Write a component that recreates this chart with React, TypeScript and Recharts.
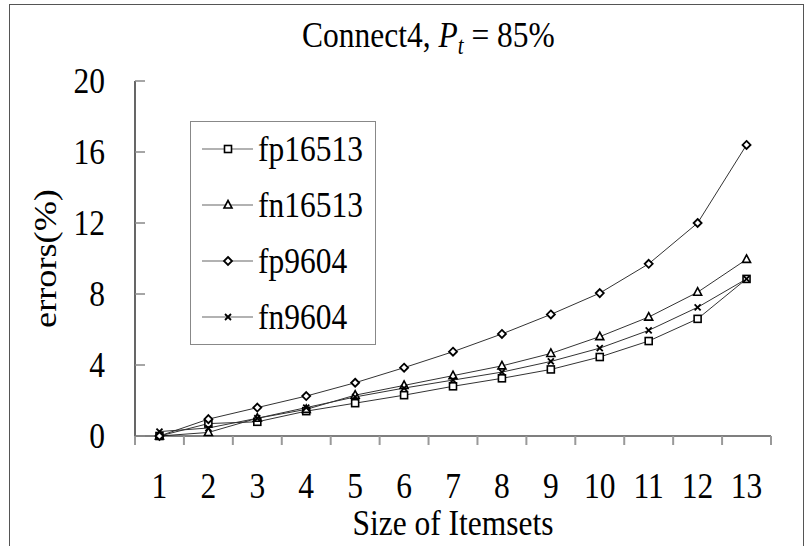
import { LineChart, Line, XAxis, YAxis, Legend } from "recharts"

// itemset sizes on the x axis
const sizes = [1, 2, 3, 4, 5, 6, 7, 8, 9, 10, 11, 12, 13]

// error rates (%) per itemset size
const fp16513 = [0, 0.7, 0.8, 1.4, 1.85, 2.3, 2.8, 3.25, 3.75, 4.45, 5.35, 6.6, 8.85]
const fn16513 = [0, 0.2, 1.0, 1.5, 2.3, 2.85, 3.4, 3.95, 4.65, 5.6, 6.7, 8.1, 9.95]
const fp9604 = [0, 0.95, 1.6, 2.25, 3.0, 3.85, 4.75, 5.75, 6.85, 8.05, 9.7, 12.0, 16.4]
const fn9604 = [0.25, 0.45, 1.0, 1.6, 2.2, 2.7, 3.15, 3.6, 4.2, 4.95, 5.95, 7.25, 8.85]

const yTicks = [0, 4, 8, 12, 16, 20]

// label ticks at each size, plus tick marks on the category boundaries
const xTicks = [0.5, ...sizes.flatMap((s) => [s, s + 0.5])]

type Shape = "square" | "triangle" | "diamond" | "cross"

const series: { key: string; shape: Shape }[] = [
  { key: "fp16513", shape: "square" },
  { key: "fn16513", shape: "triangle" },
  { key: "fp9604", shape: "diamond" },
  { key: "fn9604", shape: "cross" },
]

const data = sizes.map((size, i) => ({
  size,
  fp16513: fp16513[i],
  fn16513: fn16513[i],
  fp9604: fp9604[i],
  fn9604: fn9604[i],
}))

const FONT = "Liberation Serif, Tinos, DejaVu Serif, serif"
const FONT_SIZE = 31.5
const STRETCH = 1.15

function Marker({ cx, cy, shape }: { cx: number; cy: number; shape: Shape }) {
  if (cx == null || cy == null) return null
  switch (shape) {
    case "square":
      return <rect x={cx - 3.5} y={cy - 3.5} width={7} height={7} fill="#fff" stroke="#000" strokeWidth={1.6} />
    case "triangle":
      return (
        <polygon
          points={`${cx},${cy - 4.5} ${cx + 4},${cy + 3} ${cx - 4},${cy + 3}`}
          fill="#fff"
          stroke="#000"
          strokeWidth={1.6}
        />
      )
    case "diamond":
      return (
        <polygon
          points={`${cx},${cy - 4} ${cx + 4},${cy} ${cx},${cy + 4} ${cx - 4},${cy}`}
          fill="#fff"
          stroke="#000"
          strokeWidth={1.8}
        />
      )
    default:
      return (
        <g stroke="#000" strokeWidth={1.8}>
          <line x1={cx - 3} y1={cy - 3} x2={cx + 3} y2={cy + 3} />
          <line x1={cx - 3} y1={cy + 3} x2={cx + 3} y2={cy - 3} />
        </g>
      )
  }
}

function XTick({ x, y, payload }: any) {
  const v = payload.value
  if (Number.isInteger(v)) {
    return (
      <text
        transform={`translate(${x},${y + 62}) scale(1,${STRETCH})`}
        textAnchor="middle"
        fontFamily={FONT}
        fontSize={FONT_SIZE}
        fill="#000"
      >
        {v}
      </text>
    )
  }
  return <line x1={x} y1={y} x2={x} y2={y + 9} stroke="#999" strokeWidth={2} />
}

function YTick({ x, y, payload }: any) {
  return (
    <g>
      <line x1={x} y1={y} x2={x + 10} y2={y} stroke="#888" strokeWidth={1.5} />
      <text
        transform={`translate(${x - 30},${y + 12}) scale(1,${STRETCH})`}
        textAnchor="end"
        fontFamily={FONT}
        fontSize={FONT_SIZE}
        fill="#000"
      >
        {payload.value}
      </text>
    </g>
  )
}

function LegendBox() {
  return (
    <div
      style={{
        width: 184,
        height: 222,
        border: "1.5px solid #888",
        background: "#fff",
      }}
    >
      <svg width={184} height={222}>
        {series.map((s, i) => {
          const cy = 27 + i * 56
          return (
            <g key={s.key}>
              <line x1={11} y1={cy} x2={62} y2={cy} stroke="#999" strokeWidth={1.5} />
              <Marker cx={37} cy={cy} shape={s.shape} />
              <text
                transform={`translate(67,${cy + 12}) scale(1,${STRETCH})`}
                fontFamily={FONT}
                fontSize={FONT_SIZE}
                fill="#000"
              >
                {s.key}
              </text>
            </g>
          )
        })}
      </svg>
    </div>
  )
}

export default function App() {
  return (
    <div style={{ position: "absolute", left: 0, top: 0, width: 807, height: 546, overflow: "hidden", background: "#fff" }}>
      <div
        style={{
          position: "absolute",
          left: 9,
          top: 4,
          width: 793,
          height: 600,
          borderLeft: "1.5px solid #555",
          borderTop: "1.5px solid #555",
          borderRight: "1.5px solid #555",
        }}
      />
      {/* chart title */}
      <svg width={807} height={70} style={{ position: "absolute", left: 0, top: 0 }}>
        <text
          transform={`translate(302,47) scale(1,${STRETCH})`}
          fontFamily={FONT}
          fontSize={FONT_SIZE}
          fill="#000"
        >
          Connect4,{" "}
          <tspan fontStyle="italic">P</tspan>
          <tspan fontStyle="italic" fontSize={21} dy={6}>
            t
          </tspan>
          <tspan dy={-6}> = 85%</tspan>
        </text>
      </svg>
      <LineChart width={807} height={546} data={data} margin={{ top: 81, right: 36, bottom: 0, left: 0 }}>
        <XAxis
          dataKey="size"
          type="number"
          domain={[0.5, 13.5]}
          ticks={xTicks}
          interval={0}
          tickLine={false}
          tickSize={0}
          tickMargin={0}
          axisLine={{ stroke: "#000", strokeWidth: 1.2 }}
          height={110}
          tick={XTick}
          label={{
            content: ({ viewBox }: any) => (
              <text
                transform={`translate(${viewBox.x + viewBox.width / 2},${viewBox.y + 99}) scale(1,${STRETCH})`}
                textAnchor="middle"
                fontFamily={FONT}
                fontSize={FONT_SIZE}
                fill="#000"
              >
                Size of Itemsets
              </text>
            ),
          }}
        />
        <XAxis
          xAxisId="frame"
          dataKey="size"
          type="number"
          orientation="top"
          domain={[0.5, 13.5]}
          height={0}
          tick={false}
          tickLine={false}
          axisLine={{ stroke: "#999", strokeWidth: 2 }}
        />
        <YAxis
          type="number"
          domain={[0, 20]}
          ticks={yTicks}
          interval={0}
          width={135}
          tickLine={false}
          tickSize={0}
          tickMargin={0}
          axisLine={{ stroke: "#000", strokeWidth: 1.2 }}
          tick={YTick}
          label={{
            content: ({ viewBox }: any) => (
              <text
                transform={`translate(45,${viewBox.y + viewBox.height / 2}) rotate(-90) scale(${STRETCH},1)`}
                textAnchor="middle"
                dominantBaseline="central"
                fontFamily={FONT}
                fontSize={FONT_SIZE}
                fill="#000"
              >
                errors(%)
              </text>
            ),
          }}
        />
        <YAxis
          yAxisId="frame"
          orientation="right"
          type="number"
          domain={[0, 20]}
          width={0}
          tick={false}
          tickLine={false}
          axisLine={{ stroke: "#999", strokeWidth: 2 }}
        />
        <Legend
          layout="vertical"
          align="center"
          verticalAlign="middle"
          wrapperStyle={{ left: 190, top: 121, width: 187, height: 225 }}
          content={() => <LegendBox />}
        />
        {series.map((s) => (
          <Line
            key={s.key}
            dataKey={s.key}
            type="linear"
            stroke="#333"
            strokeWidth={1}
            isAnimationActive={false}
            dot={(p: any) => <Marker key={`${s.key}-${p.index}`} cx={p.cx} cy={p.cy} shape={s.shape} />}
            activeDot={false}
          />
        ))}
      </LineChart>
    </div>
  )
}
